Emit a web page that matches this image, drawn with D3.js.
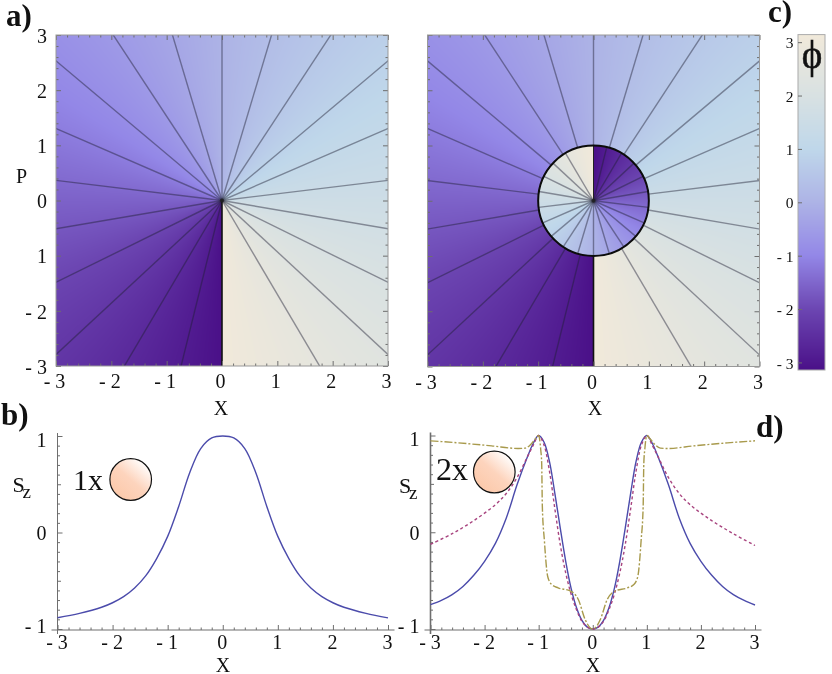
<!DOCTYPE html>
<html><head><meta charset="utf-8">
<script src="https://cdn.jsdelivr.net/npm/d3@7"></script>
<style>
html,body{margin:0;padding:0;background:#fff;overflow:hidden}
#wrap{position:relative;width:832px;height:674px}
canvas,svg{position:absolute;left:0;top:0}
text{font-family:"Liberation Serif",serif;fill:#111}
</style></head><body><div id="wrap"><canvas id="c" width="832" height="674"></canvas><svg id="s" width="832" height="674"></svg></div>
<script>
// ---------- data ----------
const phaseStops  = [-3.1416, -2, -1, 0, 1, 2, 3.1416];
const phaseColors = ["#4a1088", "#6c46b2", "#9387e7", "#adb3e6", "#bfd7ea", "#d8e1e2", "#f1e9da"];
const contourLevels = [-2.9,-2.61,-2.32,-2.03,-1.74,-1.45,-1.16,-0.87,-0.58,-0.29,0,0.29,0.58,0.87,1.16,1.45,1.74,2.03,2.32,2.61];
const phaseTicks = [-3,-2,-1,0,1,2,3];
const phaseTickLabels = ["- 3","- 2","- 1","0","1","2","3"];
const axisTicks = [-3,-2,-1,0,1,2,3];
const xTickLabels = ["- 3","- 2","- 1","0","1","2","3"];
const pTickLabels = ["- 3","- 2","1","0","1","2","3"];
const minorTicks = [-2.8,-2.6,-2.4,-2.2,-1.8,-1.6,-1.4,-1.2,-0.8,-0.6,-0.4,-0.2,0.2,0.4,0.6,0.8,1.2,1.4,1.6,1.8,2.2,2.4,2.6,2.8];
const szTicks = [-1,0,1];
const szTickLabels = ["- 1","0","1"];
const szMidTicks = [-0.5,0.5];
const szMinor = [-0.9,-0.8,-0.7,-0.6,-0.4,-0.3,-0.2,-0.1,0.1,0.2,0.3,0.4,0.6,0.7,0.8,0.9];

const b_x  = [-3,-2.6,-2.2,-2,-1.8,-1.6,-1.4,-1.2,-1,-0.8,-0.6,-0.4,-0.2,0,0.2,0.4,0.6,0.8,1,1.2,1.4,1.6,1.8,2,2.2,2.6,3];
const b_sz = [-0.883,-0.838,-0.775,-0.728,-0.665,-0.575,-0.45,-0.27,-0.04,0.27,0.62,0.87,0.98,1,0.98,0.87,0.62,0.27,-0.04,-0.27,-0.45,-0.575,-0.665,-0.728,-0.775,-0.838,-0.885];

const d_blue_x  = [-3,-2.8,-2.6,-2.4,-2.2,-2,-1.8,-1.6,-1.4,-1.2,-1.1,-1,-0.9,-0.8,-0.7,-0.6,-0.5,-0.4,-0.3,-0.2,-0.1,0,0.1,0.2,0.3,0.4,0.5,0.6,0.7,0.8,0.9,1,1.1,1.2,1.4,1.6,1.8,2,2.2,2.4,2.6,2.8,3];
const d_blue_sz = [-0.749,-0.705,-0.645,-0.56,-0.445,-0.3,-0.115,0.145,0.49,0.79,0.92,1,0.93,0.73,0.4,0.04,-0.3,-0.58,-0.78,-0.91,-0.98,-1,-0.98,-0.91,-0.78,-0.58,-0.3,0.04,0.4,0.73,0.93,1,0.92,0.79,0.49,0.145,-0.115,-0.3,-0.445,-0.56,-0.645,-0.705,-0.752];

const d_red_x  = [-3,-2.6,-2.2,-1.8,-1.6,-1.4,-1.2,-1.1,-1,-0.9,-0.8,-0.7,-0.6,-0.5,-0.4,-0.3,-0.2,-0.1,0,0.1,0.2,0.3,0.4,0.5,0.6,0.7,0.8,0.9,1,1.1,1.2,1.4,1.6,1.8,2.2,2.6,3];
const d_red_sz = [-0.124,-0.015,0.12,0.285,0.4,0.565,0.79,0.9,1,0.9,0.63,0.24,-0.13,-0.42,-0.64,-0.8,-0.92,-0.98,-1,-0.98,-0.92,-0.8,-0.64,-0.42,-0.13,0.24,0.63,0.9,1,0.9,0.79,0.565,0.4,0.285,0.12,-0.015,-0.137];

const d_olive_x  = [-3,-2.49,-1.87,-1.38,-1.25,-1.13,-1.04,-1,-0.963,-0.944,-0.932,-0.895,-0.833,-0.76,-0.64,-0.42,-0.265,-0.142,-0.05,0,0.05,0.142,0.265,0.42,0.64,0.76,0.833,0.895,0.932,0.944,0.963,1,1.04,1.13,1.25,1.38,1.87,2.49,3];
const d_olive_sz = [0.945,0.924,0.893,0.866,0.869,0.918,0.98,1,0.86,0.71,0.265,-0.08,-0.457,-0.54,-0.575,-0.605,-0.698,-0.9,-0.986,-1,-0.986,-0.9,-0.698,-0.605,-0.575,-0.54,-0.457,-0.08,0.265,0.71,0.86,1,0.98,0.918,0.869,0.866,0.893,0.924,0.945];

// ---------- setup ----------
const svg = d3.select("#s");
const ctx = document.getElementById("c").getContext("2d");
const color = d3.scaleLinear().domain(phaseStops).range(phaseColors).interpolate(d3.interpolateRgb);
const wrap = p => p > Math.PI ? p - 2*Math.PI : (p < -Math.PI ? p + 2*Math.PI : p);
const AX = "#6e6e6e";
const CONTOUR = "rgba(30,30,50,.45)";
const defs = svg.append("defs");

function fillHeat(xs, ys, disk){
  const [x0,x1]=xs.range(), [y1,y0]=ys.range();
  for(let py=Math.floor(y0);py<y1;py++){
    for(let px=Math.floor(x0);px<x1;px++){
      const X=xs.invert(px+.5), Y=ys.invert(py+.5);
      let p=Math.atan2(X,Y);
      if(disk && X*X+Y*Y<1) p=wrap(p+Math.PI);
      ctx.fillStyle=color(p);
      ctx.fillRect(px,py,1,1);
    }
  }
}

function axisOf(gen, scale, transform, values, size, width){
  const g = svg.append("g").attr("transform",transform)
    .call(gen(scale).tickValues(values).tickSize(size).tickFormat(""));
  g.selectAll("line").attr("stroke",AX).attr("stroke-width",width||1);
  g.select(".domain").remove();
  return g;
}
function labels(gen, scale, transform, values, texts, fs, dx, dy){
  const g = svg.append("g").attr("transform",transform)
    .call(gen(scale).tickValues(values).tickSize(0).tickFormat((d,i)=>texts[i]));
  g.select(".domain").remove();
  g.attr("font-family",null).attr("font-size",null);
  g.selectAll("text").style("font-size",fs+"px").attr("fill","#111").attr("dx",dx).attr("dy",dy);
  return g;
}

function heatPanel(name, l, r, t, b, disk, showY){
  const xs=d3.scaleLinear().domain([-3,3]).range([l,r]);
  const ys=d3.scaleLinear().domain([-3,3]).range([b,t]);
  fillHeat(xs,ys,disk);
  const clip="clip"+name;
  defs.append("clipPath").attr("id",clip).append("rect").attr("x",l).attr("y",t).attr("width",r-l).attr("height",b-t);
  const gl=svg.append("g").attr("clip-path",`url(#${clip})`);
  const R=5;
  const radial=d3.line().x(d=>xs(d[0])).y(d=>ys(d[1]));
  const outer=contourLevels.map(a=>{
    const r0=disk?1:0;
    return [[r0*Math.sin(a),r0*Math.cos(a)],[R*Math.sin(a),R*Math.cos(a)]];
  });
  gl.selectAll("path.o").data(outer).join("path").attr("class","o").attr("d",radial)
    .attr("fill","none").attr("stroke",CONTOUR).attr("stroke-width",1.4);
  if(disk){
    const inner=contourLevels.map(a=>{const t=wrap(a-Math.PI);return [[0,0],[Math.sin(t),Math.cos(t)]];});
    gl.selectAll("path.i").data(inner).join("path").attr("class","i").attr("d",radial)
      .attr("fill","none").attr("stroke",CONTOUR).attr("stroke-width",1.4);
    gl.append("path").attr("d",radial([[0,-1],[0,-3]])).attr("stroke","#111").attr("stroke-width",1.6);
    gl.append("path").attr("d",radial([[0,0],[0,1]])).attr("stroke","#222").attr("stroke-width",1);
    gl.append("ellipse").attr("cx",xs(0)).attr("cy",ys(0)).attr("rx",xs(1)-xs(0)).attr("ry",ys(0)-ys(1))
      .attr("fill","none").attr("stroke","#0c0c0c").attr("stroke-width",2);
  } else {
    gl.append("path").attr("d",radial([[0,0],[0,-3]])).attr("stroke","#111").attr("stroke-width",1.6);
  }
  svg.append("circle").attr("cx",xs(0)).attr("cy",ys(0)).attr("r",2).attr("fill","#222").attr("opacity",.8);
  axisOf(d3.axisBottom,xs,`translate(0,${b})`,axisTicks,-5);
  axisOf(d3.axisBottom,xs,`translate(0,${b})`,minorTicks,-2.5);
  axisOf(d3.axisTop,xs,`translate(0,${t})`,axisTicks,-5);
  axisOf(d3.axisTop,xs,`translate(0,${t})`,minorTicks,-2.5);
  axisOf(d3.axisLeft,ys,`translate(${l},0)`,axisTicks,-5);
  axisOf(d3.axisLeft,ys,`translate(${l},0)`,minorTicks,-2.5);
  axisOf(d3.axisRight,ys,`translate(${r},0)`,axisTicks,-5);
  axisOf(d3.axisRight,ys,`translate(${r},0)`,minorTicks,-2.5);
  svg.append("rect").attr("x",l).attr("y",t).attr("width",r-l).attr("height",b-t)
    .attr("fill","none").attr("stroke","#999").attr("stroke-width",1);
  labels(d3.axisBottom,xs,`translate(0,${b+5})`,axisTicks,xTickLabels,20,-2,"0.72em").selectAll("text").attr("y",3);
  if(showY) labels(d3.axisLeft,ys,`translate(${l-9},0)`,axisTicks,pTickLabels,20,0,"0.36em").selectAll("text").attr("x",0);
  return {xs,ys};
}

heatPanel("a",56,388,35,366,false,true);
heatPanel("c",427.5,759.5,35,366.5,true,false);

// ---------- colorbar ----------
const cbY=d3.scaleLinear().domain([-3.1416,3.1416]).range([370,34.6]);
for(let py=35;py<370;py++){ctx.fillStyle=color(cbY.invert(py+.5));ctx.fillRect(798,py,27,1);}
svg.append("rect").attr("x",798).attr("y",34.6).attr("width",27).attr("height",335.4).attr("fill","none").attr("stroke","#aaa");
axisOf(d3.axisLeft,cbY,"translate(798,0)",phaseTicks,-4);
labels(d3.axisLeft,cbY,"translate(793.5,0)",phaseTicks,phaseTickLabels,15.5,0,"0.36em").selectAll("text").attr("x",0);
svg.append("text").attr("x",812).attr("y",68).attr("text-anchor","middle").style("font-size","39px").attr("stroke","#111").attr("stroke-width",.5).style("paint-order","stroke").text("ϕ");

// ---------- line panels ----------
function linePanel(name,l,r,top,bot,series){
  const xs=d3.scaleLinear().domain([-3,3]).range([l,r]);
  const ys=d3.scaleLinear().domain([-1,1]).range([bot,top]);
  const baseY=bot+1;
  svg.append("line").attr("x1",l-6).attr("x2",r+6.5).attr("y1",baseY).attr("y2",baseY).attr("stroke",AX);
  svg.append("line").attr("x1",l).attr("x2",l).attr("y1",top-3).attr("y2",baseY+4).attr("stroke",AX).attr("stroke-width",name==="d"?1.6:1);
  axisOf(d3.axisBottom,xs,`translate(0,${baseY})`,axisTicks,-5);
  axisOf(d3.axisBottom,xs,`translate(0,${baseY})`,minorTicks,-2.5);
  axisOf(d3.axisLeft,ys,`translate(${l},0)`,szTicks,-5);
  axisOf(d3.axisLeft,ys,`translate(${l},0)`,szMidTicks,-3.5);
  axisOf(d3.axisLeft,ys,`translate(${l},0)`,szMinor,-2.5);
  labels(d3.axisBottom,xs,`translate(0,${baseY+5})`,axisTicks,xTickLabels,20,-1,"0.72em").selectAll("text").attr("y",0);
  labels(d3.axisLeft,ys,`translate(${l-11},0)`,szTicks,szTickLabels,20,0,"0.36em").selectAll("text").attr("x",0).attr("y",(d,i)=>i===0?-4:(i===2?3:0));
  series.forEach(s=>{
    const gen=d3.line().x(d=>xs(d[0])).y(d=>ys(d[1])).curve(s.curve);
    svg.append("path").datum(d3.zip(s.x,s.y)).attr("d",gen).attr("fill","none")
      .attr("stroke",s.c).attr("stroke-width",s.w).attr("stroke-dasharray",s.dash||null);
  });
}
const smooth=d3.curveCatmullRom.alpha(0.5);
linePanel("b",57.5,388,436,629,[{x:b_x,y:b_sz,c:"#4b4bab",w:1.4,curve:smooth}]);
linePanel("d",430.5,755,435.5,629,[
  {x:d_blue_x,y:d_blue_sz,c:"#4b4bab",w:1.4,curve:smooth},
  {x:d_red_x,y:d_red_sz,c:"#a8447f",w:1.4,dash:"3,2.6",curve:smooth},
  {x:d_olive_x,y:d_olive_sz,c:"#a89a4c",w:1.4,dash:"8,2,2,2",curve:d3.curveMonotoneX}
]);

// ---------- spheres ----------
const grad=defs.append("linearGradient").attr("id","ball").attr("x1","0.85").attr("y1","0.1").attr("x2","0.15").attr("y2","0.9");
grad.append("stop").attr("offset","0").attr("stop-color","#ffffff");
grad.append("stop").attr("offset","0.5").attr("stop-color","#fdd4bd");
grad.append("stop").attr("offset","1").attr("stop-color","#fcc9aa");
[[130.7,479.5],[494.3,472]].forEach(c=>{
  svg.append("circle").attr("cx",c[0]).attr("cy",c[1]).attr("r",20.8).attr("fill","url(#ball)").attr("stroke","#111").attr("stroke-width",1.2);
});

// ---------- annotation text ----------
function T(x,y,s,fs,opt){opt=opt||{};const t=svg.append("text").attr("x",x).attr("y",y).style("font-size",fs+"px").text(s);
  if(opt.bold)t.style("font-weight","bold"); if(opt.mid)t.attr("text-anchor","middle"); return t;}
T(6,26,"a)",31,{bold:1});
T(1,425,"b)",31,{bold:1});
T(768,22,"c)",31,{bold:1});
T(756,437,"d)",31,{bold:1});
T(16,183,"P",20);
T(221,415,"X",20,{mid:1});
T(595,415,"X",20,{mid:1});
T(223,672,"X",20,{mid:1});
T(593,672,"X",20,{mid:1});
T(73,490,"1x",30);
T(436,480,"2x",32);
T(12.5,492,"S",22); T(22.5,498,"z",19);
T(399,493,"S",22); T(409,499,"z",19);
</script></body></html>
